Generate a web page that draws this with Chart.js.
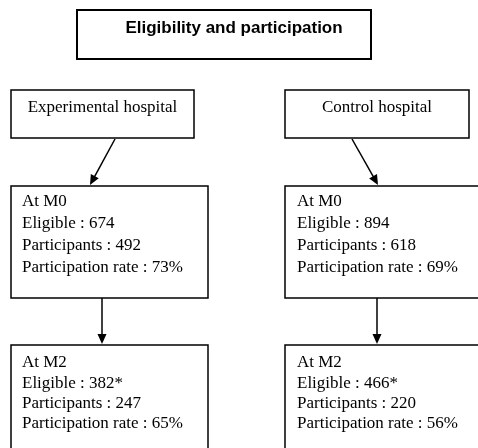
<!DOCTYPE html>
<html><head><meta charset="utf-8">
<script src="https://cdn.jsdelivr.net/npm/chart.js@4"></script>
<style>html,body{margin:0;padding:0;background:#fff;}canvas{display:block;}</style>
</head><body>
<canvas id="c" width="478" height="448"></canvas>
<script>
const title = "Eligibility and participation";
const hospitals = ["Experimental hospital", "Control hospital"];
const timepoints = ["At M0", "At M2"];
const eligibleM0 = [674, 894];
const participantsM0 = [492, 618];
const rateM0 = [73, 69];
const eligibleM2 = ["382*", "466*"];
const participantsM2 = [247, 220];
const rateM2 = [65, 56];

// layout (in chart units = pixels)
const colLeft = [11, 285];
const headBox = [[11, 90, 194, 138], [285, 90, 469, 138]];
const m0Box = [[11, 186, 208, 298], [285, 186, 482, 298]];
const m2Box = [[11, 345, 208, 460], [285, 345, 482, 460]];
const arrowsDiag = [[115, 139, 90, 185], [352, 139, 378, 185]];
const arrowsVert = [[102, 298, 102, 344], [377, 298, 377, 344]];

const flowPlugin = {
  id: 'flow',
  afterDraw(chart) {
    const ctx = chart.ctx, xs = chart.scales.x, ys = chart.scales.y;
    const X = v => xs.getPixelForValue(v), Y = v => ys.getPixelForValue(v);
    ctx.save();
    ctx.strokeStyle = '#000'; ctx.fillStyle = '#000';
    function box(b, lw) {
      ctx.lineWidth = lw || 1.5;
      ctx.strokeRect(X(b[0]), Y(b[1]), X(b[2]) - X(b[0]), Y(b[3]) - Y(b[1]));
    }
    function arrow(a) {
      const x1 = X(a[0]), y1 = Y(a[1]), x2 = X(a[2]), y2 = Y(a[3]);
      const ang = Math.atan2(y2 - y1, x2 - x1), L = 10, W = 4.5;
      ctx.lineWidth = 1.5;
      ctx.beginPath(); ctx.moveTo(x1, y1);
      ctx.lineTo(x2 - (L - 1) * Math.cos(ang), y2 - (L - 1) * Math.sin(ang)); ctx.stroke();
      ctx.beginPath(); ctx.moveTo(x2, y2);
      ctx.lineTo(x2 - L * Math.cos(ang) + W * Math.sin(ang), y2 - L * Math.sin(ang) - W * Math.cos(ang));
      ctx.lineTo(x2 - L * Math.cos(ang) - W * Math.sin(ang), y2 - L * Math.sin(ang) + W * Math.cos(ang));
      ctx.closePath(); ctx.fill();
    }
    // title
    box([77, 10, 371, 59], 2);
    ctx.font = 'bold 17px "Liberation Sans", Arial, sans-serif';
    ctx.textAlign = 'center'; ctx.textBaseline = 'middle';
    ctx.fillText(title, X(234), Y(28));
    ctx.font = '17px "Liberation Serif", "Times New Roman", serif';
    for (let i = 0; i < 2; i++) {
      box(headBox[i]);
      ctx.textAlign = 'center';
      ctx.fillText(hospitals[i], X((headBox[i][0] + headBox[i][2]) / 2), Y(108));
      arrow(arrowsDiag[i]);
      box(m0Box[i]);
      arrow(arrowsVert[i]);
      box(m2Box[i]);
      ctx.textAlign = 'left';
      const tx = X(colLeft[i] + 11 + i * 1);
      const l0 = [timepoints[0], "Eligible : " + eligibleM0[i], "Participants : " + participantsM0[i], "Participation rate : " + rateM0[i] + "%"];
      const l2 = [timepoints[1], "Eligible : " + eligibleM2[i], "Participants : " + participantsM2[i], "Participation rate : " + rateM2[i] + "%"];
      l0.forEach((s, k) => ctx.fillText(s, tx, Y(202 + k * 21.7)));
      l2.forEach((s, k) => ctx.fillText(s, tx, Y(363 + k * 20.2)));
    }
    ctx.restore();
  }
};

new Chart(document.getElementById('c'), {
  type: 'scatter',
  data: { datasets: [{ data: [], pointRadius: 0 }] },
  options: {
    responsive: false, animation: false,
    layout: { padding: 0 },
    plugins: { legend: { display: false }, tooltip: { enabled: false } },
    scales: {
      x: { type: 'linear', min: 0, max: 478, display: false },
      y: { type: 'linear', min: 0, max: 448, reverse: true, display: false }
    }
  },
  plugins: [flowPlugin]
});
</script>
</body></html>
